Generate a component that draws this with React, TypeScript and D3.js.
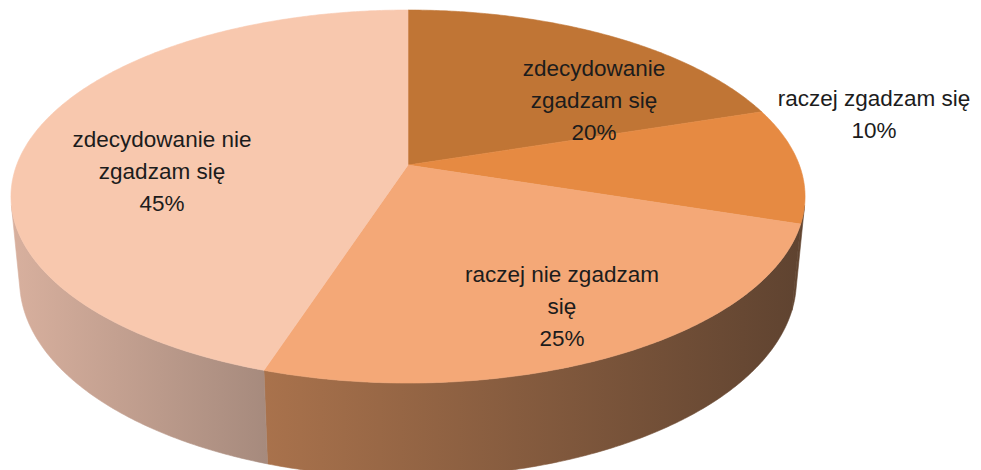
import React from "react";
import * as d3 from "d3";

// ---- data ----
const categories = [
  "zdecydowanie zgadzam się",
  "raczej zgadzam się",
  "raczej nie zgadzam się",
  "zdecydowanie nie zgadzam się",
];
const values = [20, 10, 25, 45];
const labelLines = [
  ["zdecydowanie", "zgadzam się", "20%"],
  ["raczej zgadzam się", "10%"],
  ["raczej nie zgadzam", "się", "25%"],
  ["zdecydowanie nie", "zgadzam się", "45%"],
];

// ---- styles / layout ----
const topColors = ["#c07535", "#e68a42", "#f4a877", "#f8c8ae"];
const sideStops: [string, string][] = [
  ["#7a4a22", "#7a4a22"],
  ["#634631", "#614430"],
  ["#a9724c", "#5f4330"],
  ["#d8b09e", "#a68a7d"],
];
const labelLayout = [
  { x: 594, y: 76 },
  { x: 874, y: 106 },
  { x: 562, y: 282 },
  { x: 162, y: 147 },
];
const LINE_H = 32;

const W = 981, H = 470;
const CX = 408, CY = 165;
const FOC = 2051.7;
const DIST = 5.243;
const SIN_E = 0.463;
const COS_E = Math.sqrt(1 - SIN_E * SIN_E);
const DEPTH = 0.245;

function project(phi: number, r: number, Y: number): [number, number] {
  const X = r * Math.sin(phi);
  const Z = -r * Math.cos(phi);
  const dep = DIST - (Y * SIN_E + Z * COS_E);
  const up = Y * COS_E - Z * SIN_E;
  return [CX + (FOC * X) / dep, CY - (FOC * up) / dep];
}

function arcPts(a0: number, a1: number, Y: number) {
  const n = Math.max(2, Math.ceil(((a1 - a0) * 180) / Math.PI / 0.5));
  const pts: [number, number][] = [];
  for (let i = 0; i <= n; i++) pts.push(project(a0 + ((a1 - a0) * i) / n, 1, Y));
  return pts;
}

const line = d3.line<[number, number]>().x((p) => p[0]).y((p) => p[1]);

export default function App() {
  const pie = d3.pie<number>().sort(null).startAngle(0).endAngle(2 * Math.PI)(values);
  const visLim = Math.acos(-1 / (DIST * COS_E));
  const vis0 = visLim;
  const vis1 = 2 * Math.PI - visLim;

  const sides: React.ReactNode[] = [];
  const defs: React.ReactNode[] = [];
  pie.forEach((s, i) => {
    const a0 = Math.max(s.startAngle, vis0);
    const a1 = Math.min(s.endAngle, vis1);
    if (a1 <= a0) return;
    const top = arcPts(a0, a1, 0);
    const bot = arcPts(a0, a1, -DEPTH).reverse();
    const all = top.concat(bot);
    const xs = all.map((p) => p[0]);
    const xmin = d3.min(xs)!, xmax = d3.max(xs)!;
    // gradient oriented left->right in screen; order depends on slice side
    const leftColor = sideStops[i][a0 > Math.PI ? 0 : 0];
    defs.push(
      <linearGradient key={"g" + i} id={"side" + i} gradientUnits="userSpaceOnUse" x1={xmin} x2={xmax} y1={0} y2={0}>
        <stop offset="0" stopColor={leftColor} />
        <stop offset="1" stopColor={sideStops[i][1]} />
      </linearGradient>
    );
    sides.push(
      <path key={"s" + i} d={line(all)! + "Z"} fill={`url(#side${i})`} stroke={`url(#side${i})`} strokeWidth={0.6} />
    );
  });

  const center = project(0, 0, 0);
  const tops = pie.map((s, i) => {
    const pts = [center, ...arcPts(s.startAngle, s.endAngle, 0)];
    return (
      <path key={"t" + i} d={line(pts)! + "Z"} fill={topColors[i]} stroke={topColors[i]} strokeWidth={0.6} strokeLinejoin="round" />
    );
  });

  const labels = pie.map((s, i) => (
    <text key={"l" + i} x={labelLayout[i].x} y={labelLayout[i].y} textAnchor="middle"
      fontFamily="'Liberation Sans', Arial, sans-serif" fontSize={22.5} fill="#1c1c1c">
      {labelLines[i].map((t, j) => (
        <tspan key={j} x={labelLayout[i].x} y={labelLayout[i].y + j * LINE_H}>{t}</tspan>
      ))}
    </text>
  ));

  return (
    <div style={{ position: "absolute", left: 0, top: 0 }}>
      <svg width={W} height={H} style={{ display: "block", background: "#fff" }}>
        <defs>{defs}</defs>
        <title>{categories.join(", ")}</title>
        <g>{sides}</g>
        <g>{tops}</g>
        <g>{labels}</g>
      </svg>
    </div>
  );
}
